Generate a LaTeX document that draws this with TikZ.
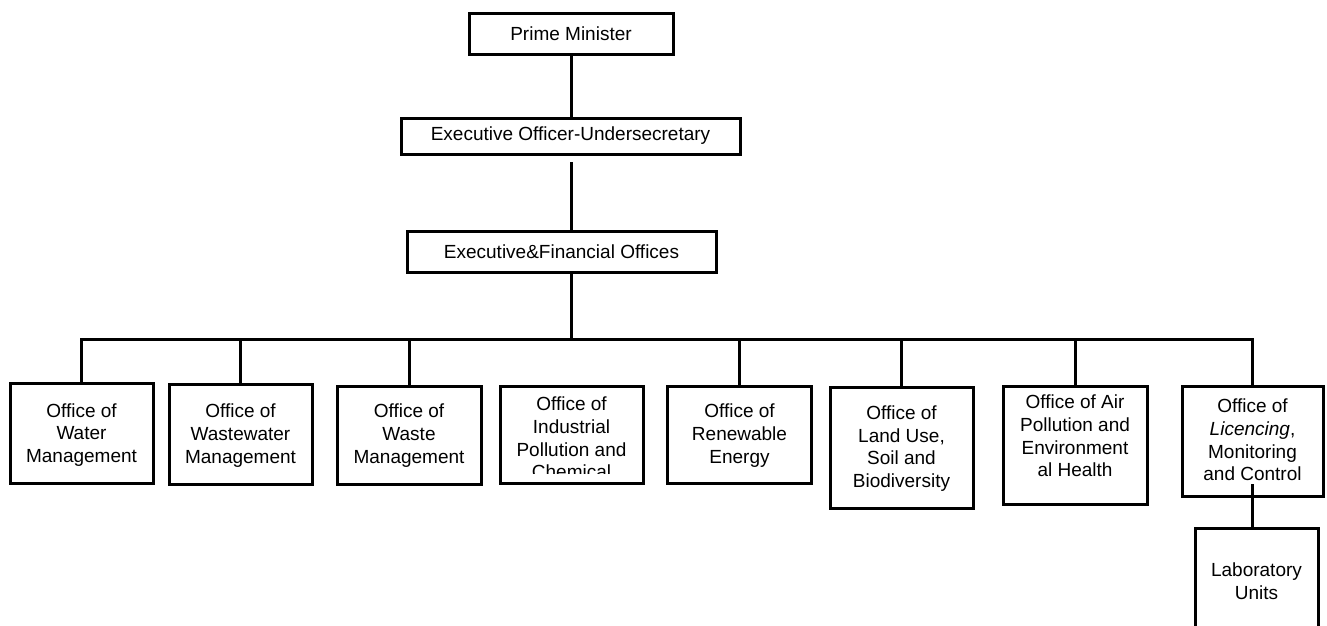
\documentclass[tikz,border=0pt]{standalone}
\usepackage{fontspec}
\setmainfont{Liberation Sans}
\begin{document}
\begin{tikzpicture}[x=1pt,y=-1pt,
  box/.style={draw, line width=3pt, rectangle, inner sep=0pt, outer sep=0pt, fill=white},
  txt/.style={align=center, inner sep=0pt, font=\fontsize{19}{22.6}\selectfont},
  link/.style={line width=3pt}]
\clip (0,0) rectangle (1327,625);
\fill[white] (0,0) rectangle (1327,625);

% top chain
\node[box, txt, minimum width=204pt, minimum height=41pt] (pm) at (571,33.5) {Prime Minister};
\node[box, txt, minimum width=339pt, minimum height=36pt] (eou) at (570.5,136) {Executive Officer-Undersecretary};
\node[box, txt, minimum width=309pt, minimum height=41pt] (efo) at (561.5,251.5) {Executive\&Financial Offices};

% offices
\node[box, minimum width=143pt, minimum height=100pt] (b1) at (81.5,433) {};
\node[box, minimum width=143pt, minimum height=100pt] (b2) at (240.5,434) {};
\node[box, minimum width=144pt, minimum height=98pt] (b3) at (409,435) {};
\node[box, minimum width=143pt, minimum height=97pt] (b4) at (571.5,434.5) {};
\node[box, minimum width=144pt, minimum height=97pt] (b5) at (739.5,434.5) {};
\node[box, minimum width=143pt, minimum height=121pt] (b6) at (901.5,447.5) {};
\node[box, minimum width=144pt, minimum height=118pt] (b7) at (1075,445) {};
\node[box, minimum width=141pt, minimum height=110pt] (b8) at (1252.5,441) {};
\node[box, minimum width=123pt, minimum height=106pt] (lab) at (1256.5,581) {};

\node[txt] (t1) at ([yshift=-2pt]b1.center) {Office of\\Water\\Management};
\node[txt] (t2) at ([yshift=-1.5pt]b2.center) {Office of\\Wastewater\\Management};
\node[txt] (t3) at ([yshift=-0.5pt]b3.center) {Office of\\Waste\\Management};
\begin{scope}
  \clip (500,386) rectangle (643,473);
  \node[txt] (t4) at ([yshift=-3.5pt]b4.center) {Office of\\Industrial\\Pollution and\\Chemical};
\end{scope}
\node[txt] (t5) at ([yshift=-1pt]b5.center) {Office of\\Renewable\\Energy};
\node[txt] (t6) at ([yshift=-1pt]b6.center) {Office of\\Land Use,\\Soil and\\Biodiversity};
\node[txt] (t7) at ([yshift=9pt]b7.center) {Office of Air\\Pollution and\\Environment\\al Health};
\node[txt] (t8) at ([yshift=1pt]b8.center) {Office of\\\textit{Licencing},\\Monitoring\\and Control};
\node[txt] (tl) at (lab.center) {Laboratory\\Units};

% connectors
\coordinate (barL) at (b1.north |- 0,339);
\coordinate (barR) at (b8.north |- 0,339);
\draw[link] (pm.south) -- (pm.south |- eou.north);
\draw[link] ([yshift=-8pt]pm.south |- eou.south) -- (pm.south |- efo.north);
\draw[link] (pm.south |- efo.south) -- (pm.south |- barL);
\draw[link, line cap=rect] (barL) -- (barR);
\foreach \b in {b1,b2,b3,b5,b6,b7,b8} {
  \draw[link] (\b.north) -- (\b.north |- barL);
}
\draw[link] ([yshift=12pt]b8.south) -- (b8.south |- lab.north);
\end{tikzpicture}
\end{document}
